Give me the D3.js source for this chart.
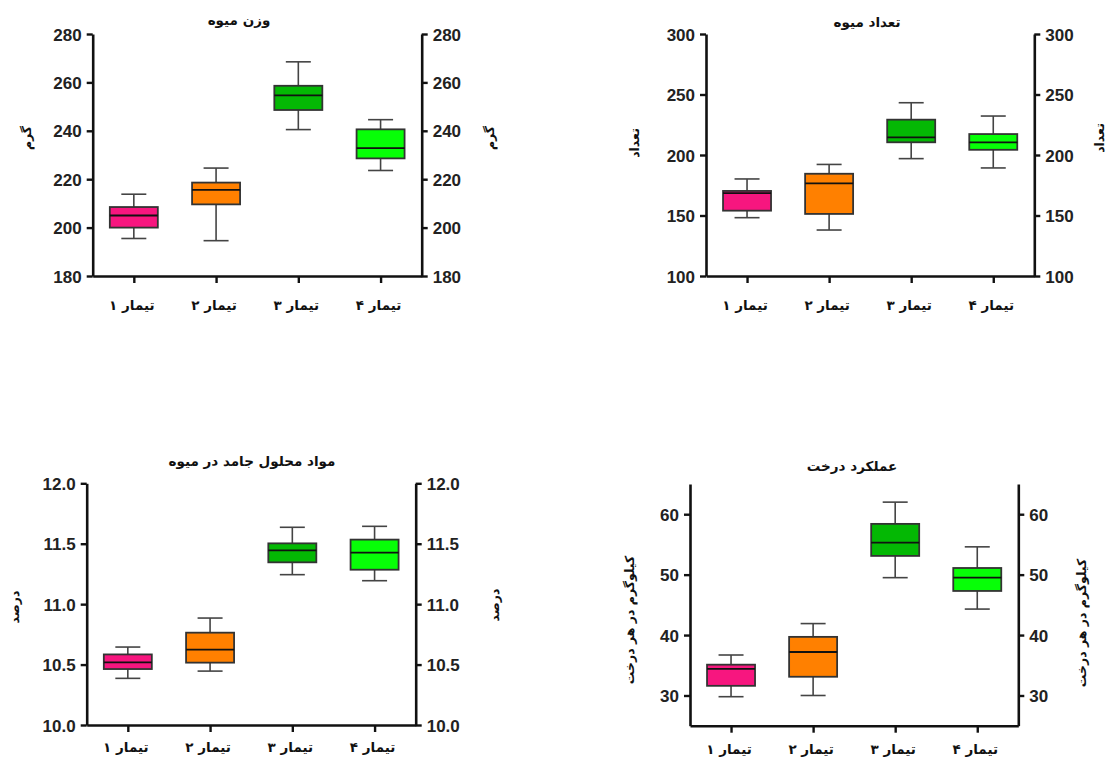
<!DOCTYPE html>
<html lang="fa">
<head>
<meta charset="utf-8">
<title>Box plots</title>
<script src="https://d3js.org/d3.v7.min.js"></script>
<style>
  body { margin: 0; background: #fff; }
  .tick text { font-family: "Liberation Sans", Arial, sans-serif; font-weight: bold; font-size: 17px; fill: #222; }
  .fa { font-family: "DejaVu Sans", sans-serif; font-weight: bold; fill: #111; }
</style>
</head>
<body>
<script>
// categories and colours
var groups = ["تیمار ۱", "تیمار ۲", "تیمار ۳", "تیمار ۴"];
var colors = ["#f7167f", "#ff8000", "#04b804", "#07ff07"];

// [min, q1, median, q3, max] for each treatment
var weightStats = [[195.5, 200, 205, 208.5, 213.8], [194.6, 209.6, 215.6, 218.6, 224.6], [240.5, 248.6, 254.6, 258.6, 268.5], [223.6, 228.6, 232.8, 240.6, 244.6]];
var countStats = [[148.2, 154, 168.5, 170.3, 180.2], [138, 151.3, 176.5, 184.5, 192.2], [197, 210.5, 214.5, 229.2, 243.2], [189.3, 204.3, 210.5, 217.3, 232.2]];
var solidsStats = [[10.386, 10.463, 10.518, 10.584, 10.645], [10.446, 10.516, 10.623, 10.764, 10.885], [11.244, 11.346, 11.445, 11.503, 11.636], [11.194, 11.285, 11.426, 11.534, 11.644]];
var yieldStats = [[29.8, 31.6, 34.4, 35.1, 36.7], [30.0, 33.1, 37.2, 39.7, 41.9], [49.5, 53.1, 55.3, 58.4, 62.0], [44.3, 47.3, 49.5, 51.1, 54.6]];

// tick values
var weightTicks = [180, 200, 220, 240, 260, 280];
var countTicks = [100, 150, 200, 250, 300];
var solidsTicks = [10.0, 10.5, 11.0, 11.5, 12.0];
var yieldTicks = [30, 40, 50, 60];

var panels = [
  { title: "وزن میوه", ylab: "گرم", stats: weightStats, domain: [180, 280], ticks: weightTicks, fmt: d3.format("d"),
    x0: 92.7, x1: 421.7, y0: 34, y1: 276, catY: 310, titleX: 239, titleY: 20, labL: [27, 138], labR: [490, 138] },
  { title: "تعداد میوه", ylab: "تعداد", stats: countStats, domain: [100, 300], ticks: countTicks, fmt: d3.format("d"),
    x0: 706, x1: 1034.3, y0: 34, y1: 276, catY: 310, titleX: 867, titleY: 22, labL: [635, 143], labR: [1100, 138] },
  { title: "مواد محلول جامد در میوه", ylab: "درصد", stats: solidsStats, domain: [10, 12], ticks: solidsTicks, fmt: d3.format(".1f"),
    x0: 86.7, x1: 415.7, y0: 483.3, y1: 725, catY: 752, titleX: 252, titleY: 461, labL: [15, 607], labR: [495, 605] },
  { title: "عملکرد درخت", ylab: "کیلوگرم در هر درخت", stats: yieldStats, domain: [25, 65], ticks: yieldTicks, fmt: d3.format("d"),
    x0: 690, x1: 1018.3, y0: 484, y1: 725.7, catY: 754, titleX: 852, titleY: 466, labL: [630, 620], labR: [1082, 623] }
];

var svg = d3.select("body").append("svg")
  .attr("width", 1107)
  .attr("height", 759);

panels.forEach(function(p) {
  var g = svg.append("g");

  var x = d3.scalePoint().domain(groups).range([p.x0, p.x1]).padding(0.5);
  var y = d3.scaleLinear().domain(p.domain).range([p.y1, p.y0]);

  var boxW = 48, capW = 25;

  // boxes
  var box = g.selectAll("g.box")
    .data(p.stats)
    .enter().append("g")
    .attr("class", "box");

  box.append("line")
    .attr("x1", function(d, i) { return x(groups[i]); })
    .attr("x2", function(d, i) { return x(groups[i]); })
    .attr("y1", function(d) { return y(d[0]); })
    .attr("y2", function(d) { return y(d[4]); })
    .attr("stroke", "#444").attr("stroke-width", 1.6);

  box.selectAll("line.cap")
    .data(function(d, i) { return [[d[0], i], [d[4], i]]; })
    .enter().append("line")
    .attr("class", "cap")
    .attr("x1", function(d) { return x(groups[d[1]]) - capW / 2; })
    .attr("x2", function(d) { return x(groups[d[1]]) + capW / 2; })
    .attr("y1", function(d) { return y(d[0]); })
    .attr("y2", function(d) { return y(d[0]); })
    .attr("stroke", "#444").attr("stroke-width", 1.6);

  box.append("rect")
    .attr("x", function(d, i) { return x(groups[i]) - boxW / 2; })
    .attr("y", function(d) { return y(d[3]); })
    .attr("width", boxW)
    .attr("height", function(d) { return y(d[1]) - y(d[3]); })
    .attr("fill", function(d, i) { return colors[i]; })
    .attr("stroke", "#333").attr("stroke-width", 1.8);

  box.append("line")
    .attr("x1", function(d, i) { return x(groups[i]) - boxW / 2; })
    .attr("x2", function(d, i) { return x(groups[i]) + boxW / 2; })
    .attr("y1", function(d) { return y(d[2]); })
    .attr("y2", function(d) { return y(d[2]); })
    .attr("stroke", "#111").attr("stroke-width", 1.8);

  // axes
  var left = g.append("g")
    .attr("transform", "translate(" + p.x0 + ",0)")
    .call(d3.axisLeft(y).tickValues(p.ticks).tickFormat(p.fmt).tickSize(6).tickPadding(5).tickSizeOuter(0));
  var right = g.append("g")
    .attr("transform", "translate(" + p.x1 + ",0)")
    .call(d3.axisRight(y).tickValues(p.ticks).tickFormat(p.fmt).tickSize(6).tickPadding(5).tickSizeOuter(0));
  var bottom = g.append("g")
    .attr("transform", "translate(0," + p.y1 + ")")
    .call(d3.axisBottom(x).tickSize(7).tickSizeOuter(0).tickFormat(""));

  [left, right, bottom].forEach(function(a) {
    a.select(".domain").attr("stroke", "#111").attr("stroke-width", 2.6);
    a.selectAll(".tick line").attr("stroke", "#111").attr("stroke-width", 2.4);
  });
  left.selectAll(".tick text").attr("dy", "0.36em");
  right.selectAll(".tick text").attr("dy", "0.36em");

  // category labels
  g.selectAll("text.cat")
    .data(groups)
    .enter().append("text")
    .attr("class", "fa cat")
    .attr("x", function(d) { return x(d) - 2; })
    .attr("y", p.catY)
    .attr("text-anchor", "middle")
    .attr("font-size", "13.5px")
    .attr("direction", "rtl")
    .text(function(d) { return d; });

  // title
  g.append("text")
    .attr("class", "fa")
    .attr("x", p.titleX)
    .attr("y", p.titleY + 5)
    .attr("text-anchor", "middle")
    .attr("font-size", "13.5px")
    .text(p.title);

  // y titles on both sides
  [p.labL, p.labR].forEach(function(pos) {
    g.append("text")
      .attr("class", "fa")
      .attr("transform", "translate(" + pos[0] + "," + pos[1] + ") rotate(-90)")
      .attr("text-anchor", "middle")
      .attr("dy", "0.35em")
      .attr("font-size", "12.5px")
      .text(p.ylab);
  });
});
</script>
</body>
</html>
